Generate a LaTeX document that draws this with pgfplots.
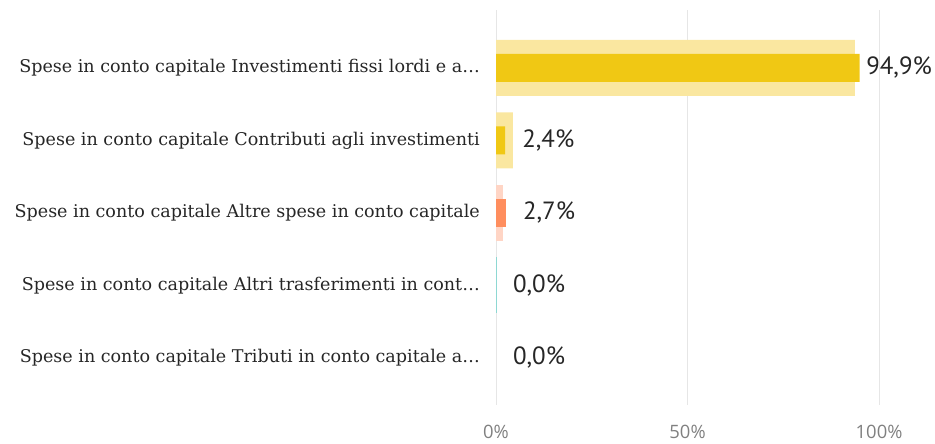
\documentclass[border=0pt]{standalone}
\usepackage{fontspec}
\usepackage{pgfplots}
\pgfplotsset{compat=1.18}
\newfontfamily\catfont{DejaVu Serif}
\newfontfamily\valfont{PT Sans}
\newfontfamily\tickfont{Open Sans}
\definecolor{darkyel}{RGB}{240,200,20}
\definecolor{lightyel}{RGB}{250,231,160}
\definecolor{orng}{RGB}{255,142,94}
\definecolor{lpink}{RGB}{255,213,197}
\definecolor{teal2}{RGB}{142,216,211}
\definecolor{gridc}{RGB}{230,230,230}
\begin{document}
\begin{tikzpicture}[x=1bp,y=1bp]
\useasboundingbox (0,0) rectangle (935,444);
\begin{axis}[
  at={(496bp,39bp)}, anchor=south west,
  scale only axis, width=439bp, height=395bp,
  xmin=0, xmax=114.6, ymin=-0.8, ymax=4.65, y dir=reverse,
  axis line style={draw=none},
  xtick={0,50,100}, xticklabels={0\%,50\%,100\%},
  ytick={0,1,2,3,4},
  yticklabels={{Spese in conto capitale Investimenti fissi lordi e a\ldots},
    {Spese in conto capitale Contributi agli investimenti},
    {Spese in conto capitale Altre spese in conto capitale},
    {Spese in conto capitale Altri trasferimenti in cont\ldots},
    {Spese in conto capitale Tributi in conto capitale a\ldots}},
  xmajorgrids, major grid style={gridc, line width=1bp},
  tick style={draw=none},
  yticklabel style={font=\catfont\fontsize{17.6}{20}\selectfont, text=black!85, anchor=east, inner sep=0pt, xshift=-16bp},
  xticklabel style={font=\tickfont\fontsize{18.5}{21}\selectfont, text=black!50, anchor=north, inner sep=0pt, yshift=-20bp},
  clip=false,
]
\addplot[xbar, bar shift=0pt, bar width=56bp, fill=lightyel, draw=none] coordinates {(93.7,0) (4.4,1)};
\addplot[xbar, bar shift=0pt, bar width=56bp, fill=lpink, draw=none] coordinates {(1.8,2)};
\addplot[xbar, bar shift=0pt, bar width=56bp, fill=teal2, draw=none] coordinates {(0.35,3)};
\addplot[xbar, bar shift=0pt, bar width=28bp, fill=darkyel, draw=none] coordinates {(94.9,0) (2.4,1)};
\addplot[xbar, bar shift=0pt, bar width=28bp, fill=orng, draw=none] coordinates {(2.7,2)};
\addplot[draw=none, mark=none, nodes near coords, point meta=explicit symbolic,
  nodes near coords style={anchor=west, inner sep=0pt, font=\valfont\fontsize{25}{29}\selectfont, text=black!85}]
  table[meta=label] {
x y label
96.6 0 {94,9\%}
6.8 1 {2,4\%}
7.0 2 {2,7\%}
4.4 3 {0,0\%}
4.4 4 {0,0\%}
};
\end{axis}
\end{tikzpicture}
\end{document}
